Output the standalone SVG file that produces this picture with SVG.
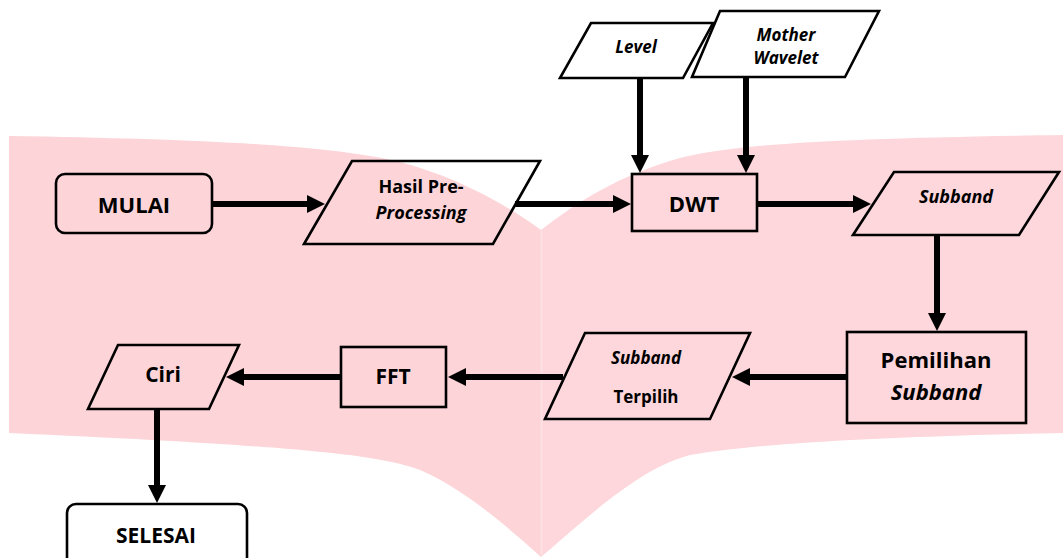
<svg xmlns="http://www.w3.org/2000/svg" width="1063" height="558" viewBox="0 0 1063 558">
<defs>
<marker id="ah" markerUnits="userSpaceOnUse" markerWidth="20" markerHeight="20" refX="0" refY="9" orient="auto">
<path d="M0,0 L18,9 L0,18 Z" fill="#000"/>
</marker>
<style>
.n{fill:none;stroke:#000;stroke-width:2.6;stroke-linejoin:miter}
.c{fill:none;stroke:#000;stroke-width:6;marker-end:url(#ah)}
text{font-family:"Open Sans","Liberation Sans",sans-serif;font-weight:bold;fill:#000;text-anchor:middle}
.i{font-style:italic}
</style>
</defs>
<rect width="1063" height="558" fill="#fff"/>
<g id="background">
<path d="M9,136 C200,139 330,145 400,162 C450,175 500,200 541,230 L541,557 C500,520 460,487 420,470 C380,455 300,446 9,433 Z" fill="#fdd5d9"/>
<path d="M541,230 C580,200 620,175 680,158 C740,143 850,138 1063,135 L1063,433 C850,437 740,446 690,455 C640,468 590,515 541,557 Z" fill="#fdd7db"/>
<line x1="541.5" y1="231" x2="541.5" y2="555" stroke="#fde2e5" stroke-width="1.5"/>
</g>
<g id="connectors">
<path class="c" d="M212,204 H307"/>
<path class="c" d="M515,204 H613"/>
<path class="c" d="M640,78 V155"/>
<path class="c" d="M746,77 V155"/>
<path class="c" d="M757,204 H853"/>
<path class="c" d="M937,235 V313"/>
<path class="c" d="M847,377 H750"/>
<path class="c" d="M563,377 H466"/>
<path class="c" d="M341,377 H244"/>
<path class="c" d="M157,409 V485"/>
</g>
<g id="mulai">
<rect class="n" x="56" y="174" width="156" height="59" rx="9"/>
<text x="134" y="213" font-size="22">MULAI</text>
</g>
<g id="hasil">
<polygon class="n" points="352,161 540,161 493,244 304,244"/>
<text x="421" y="193" font-size="18">Hasil Pre-</text>
<text class="i" x="421" y="219" font-size="18">Processing</text>
</g>
<g id="level">
<polygon class="n" points="591,23 713,23 683,78 560,78"/>
<text class="i" x="636" y="53" font-size="17">Level</text>
</g>
<g id="mother">
<polygon class="n" points="720,11 879,11 845,77 692,77"/>
<text class="i" x="786" y="41" font-size="17">Mother</text>
<text class="i" x="786" y="64" font-size="17">Wavelet</text>
</g>
<g id="dwt">
<rect class="n" x="632" y="174" width="125" height="57"/>
<text x="694" y="212" font-size="22">DWT</text>
</g>
<g id="subband">
<polygon class="n" points="894,172 1059,172 1019,235 853,235"/>
<text class="i" x="956" y="203" font-size="18">Subband</text>
</g>
<g id="pemilihan">
<rect class="n" x="847" y="332" width="179" height="91"/>
<text x="936" y="368" font-size="22">Pemilihan</text>
<text class="i" x="936" y="400" font-size="22">Subband</text>
</g>
<g id="subband-terpilih">
<polygon class="n" points="585,333 750,333 710,419 545,419"/>
<text class="i" x="646" y="364" font-size="17">Subband</text>
<text x="646" y="403" font-size="17">Terpilih</text>
</g>
<g id="fft">
<rect class="n" x="341" y="347" width="105" height="60"/>
<text x="393" y="384" font-size="21">FFT</text>
</g>
<g id="ciri">
<polygon class="n" points="118,345 239,345 209,409 88,409"/>
<text x="163" y="382" font-size="21">Ciri</text>
</g>
<g id="selesai">
<rect class="n" x="67" y="504" width="180" height="64" rx="9"/>
<text x="156" y="543" font-size="21">SELESAI</text>
</g>
</svg>
